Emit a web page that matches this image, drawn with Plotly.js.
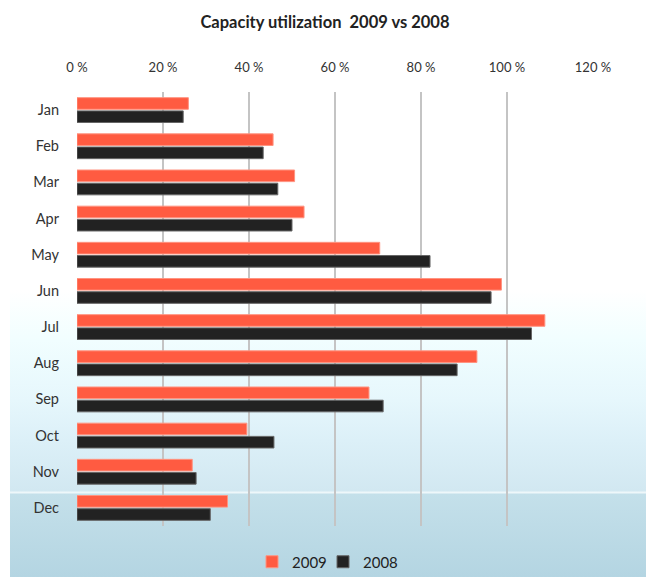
<!DOCTYPE html>
<html>
<head>
<meta charset="utf-8">
<script src="https://cdn.plot.ly/plotly-3.0.1.min.js"></script>
<style>
  html, body { margin: 0; padding: 0; background: #ffffff; }
  #wrap { position: relative; width: 646px; height: 577px; overflow: hidden; }
  #bg { position: absolute; left: 10px; right: 0; top: 0; bottom: 0;
    background: linear-gradient(to bottom,
      #ffffff 0px, #ffffff 290px, #f1feff 340px, #e6f7fc 400px, #dcf0f8 440px,
      #d2e8f1 491px, #eef7fa 492px, #eef7fa 493px, #c4e0ea 494px, #b4d5e2 577px); }
  #chart { position: absolute; left: 0; top: 0; width: 646px; height: 577px; }
</style>
</head>
<body>
<div id="wrap"><div id="bg"></div><div id="chart"></div></div>
<script>
const months = ['Jan','Feb','Mar','Apr','May','Jun','Jul','Aug','Sep','Oct','Nov','Dec'];
const util2009 = [25.9, 45.6, 50.6, 52.8, 70.4, 98.7, 108.8, 93.0, 67.9, 39.5, 26.8, 35.0];
const util2008 = [24.7, 43.3, 46.7, 50.0, 82.1, 96.3, 105.7, 88.4, 71.2, 45.8, 27.7, 31.0];
const xTicks = [0, 20, 40, 60, 80, 100, 120];
const FONT = 'Lato, "Open Sans", "DejaVu Sans", sans-serif';

const traces = [
  { type: 'bar', orientation: 'h', name: '2009', y: months, x: util2009, legend: 'legend',
    marker: { color: '#ff5b41', line: { color: '#ff9380', width: 1 } }, hoverinfo: 'x+y' },
  { type: 'bar', orientation: 'h', name: '2008', y: months, x: util2008, legend: 'legend2',
    marker: { color: '#222222', line: { color: '#666666', width: 1 } }, hoverinfo: 'x+y' }
];

const legendBase = { orientation: 'h', xanchor: 'left', xref: 'container', y: 0.026, yanchor: 'middle',
  yref: 'container', font: { family: FONT, size: 15, color: '#222222' }, bgcolor: 'rgba(0,0,0,0)' };

const layout = {
  width: 646, height: 577,
  paper_bgcolor: 'rgba(0,0,0,0)', plot_bgcolor: 'rgba(0,0,0,0)',
  margin: { l: 77, r: 53, t: 92, b: 51 },
  barmode: 'group', bargap: 0.27, bargroupgap: 0.12,
  font: { family: FONT, color: '#333333', size: 13 },
  title: { text: 'Capacity utilization  2009 vs 2008', x: 0.503, xanchor: 'center', y: 0.962, yanchor: 'middle',
    font: { family: FONT, size: 16.5, color: '#222222', weight: 'bold' } },
  xaxis: { side: 'top', range: [0, 120], tickvals: xTicks, ticktext: xTicks.map(v => v + ' %'),
    showgrid: true, gridcolor: '#c4c4c4', gridwidth: 1.5, zeroline: false, showline: false,
    ticks: '', ticklabelstandoff: 16, tickfont: { family: FONT, size: 13, color: '#333333' }, fixedrange: true },
  yaxis: { type: 'category', autorange: 'reversed', showgrid: false, zeroline: false,
    showline: false, ticks: '', ticklabelstandoff: 17,
    tickfont: { family: FONT, size: 14.5, color: '#333333' }, fixedrange: true },
  showlegend: true,
  legend: Object.assign({}, legendBase, { x: 252 / 646 }),
  legend2: Object.assign({}, legendBase, { x: 323 / 646 })
};

Plotly.newPlot('chart', traces, layout, { displayModeBar: false, staticPlot: true });
</script>
</body>
</html>
